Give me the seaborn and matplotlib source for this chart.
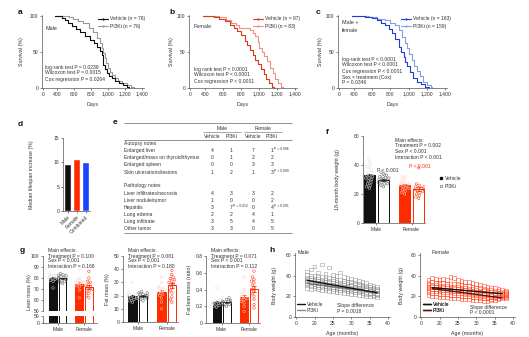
import matplotlib
matplotlib.use('Agg')
import matplotlib.pyplot as plt
import seaborn as sns
from matplotlib.lines import Line2D

sns.set_theme(style='ticks')
plt.rcParams['font.family'] = ['Liberation Sans', 'DejaVu Sans']
plt.rcParams['axes.unicode_minus'] = False

W, H = 529, 337
FS = 3.6
TXT = '#333333'
AXC = '#555555'
BLACK = '#111111'; GREY = '#9a9a9a'
RED = '#ff2a00'; DRED = '#d93a1e'; LRED = '#ec9482'
DBLUE = '#1f3fcf'; LBLUE = '#86a0e8'

# ---------------- data ----------------
day_tick_values = [0, 400, 600, 800, 1000, 1200, 1400]
day_tick_labels = ['0', '400', '600', '800', '1,000', '1,200', '1,400']

male_veh_days = [380, 460, 500, 533, 573, 620, 671, 730, 788, 830, 867, 900, 926, 945, 965, 984, 1010, 1043, 1080, 1122, 1170, 1220, 1240]
male_veh_surv = [100, 97, 94, 90, 86, 82, 78, 72, 67, 62, 57, 51, 46, 32, 26, 21, 17, 14, 10, 7, 4, 1, 0]
male_pi_days = [380, 540, 592, 650, 710, 770, 828, 870, 906, 930, 945, 960, 976, 1000, 1024, 1050, 1082, 1120, 1161, 1220, 1270, 1298]
male_pi_surv = [100, 98, 96, 93, 90, 84, 78, 70, 62, 55, 49, 42, 35, 28, 22, 18, 14, 10, 7, 4, 2, 0]

fem_veh_days = [380, 500, 560, 620, 680, 720, 760, 800, 840, 870, 900, 930, 960, 990, 1020, 1050, 1080, 1110, 1140, 1170]
fem_veh_surv = [100, 98, 96, 93, 88, 84, 79, 74, 66, 60, 53, 46, 39, 33, 26, 20, 13, 7, 2, 0]
fem_pi_days = [380, 560, 630, 690, 740, 780, 900, 930, 960, 985, 1005, 1030, 1060, 1090, 1120, 1150, 1180, 1210, 1240, 1260]
fem_pi_surv = [100, 98, 95, 91, 87, 84, 81, 77, 72, 64, 56, 50, 44, 37, 28, 21, 13, 7, 2, 0]

comb_veh_days = [380, 520, 600, 650, 700, 740, 780, 815, 850, 890, 920, 945, 965, 985, 1010, 1050, 1090, 1130, 1180, 1220]
comb_veh_surv = [100, 99, 97, 95, 91, 87, 82, 76, 68, 57, 50, 43, 36, 30, 22, 14, 9, 5, 2, 0]
comb_pi_days = [380, 560, 650, 740, 800, 850, 890, 925, 955, 980, 1005, 1035, 1060, 1090, 1120, 1160, 1200, 1240, 1260]
comb_pi_surv = [100, 98, 96, 94, 90, 87, 80, 71, 63, 55, 47, 39, 31, 23, 16, 9, 4, 1, 0]

d_cats = ['Male', 'Female', 'Combined']
d_vals = [9.7, 10.6, 10.0]

tab_groups = ['Male', 'Female']
tab_cols = ['Vehicle', 'PI3Ki', 'Vehicle', 'PI3Ki']
autopsy_rows = ['Enlarged liver', 'Enlarged/mass on thyroid/thymus', 'Enlarged spleen', 'Skin ulcerations/lesions']
autopsy_counts = [[4, 1, 7, 1], [0, 1, 2, 2], [0, 0, 3, 3], [1, 2, 1, 3]]
autopsy_p = {(0, 3): 'P = 0.006', (3, 3): 'P = 0.080'}
path_rows = ['Liver infiltrates/necrosis', 'Liver nodule/tumor', 'Hepatitis', 'Lung edema', 'Lung infiltrate', 'Other tumor']
path_counts = [[4, 3, 3, 2], [1, 0, 0, 2], [3, 7, 0, 4], [2, 2, 4, 1], [3, 5, 4, 5], [3, 3, 0, 5]]
path_p = {(2, 1): 'P = 0.012', (2, 3): 'P = 0.001'}

f_male_veh = [44, 42, 40, 39, 38, 36, 35, 34, 33, 33, 32, 31, 31, 30, 29, 28, 27, 26, 25, 24]
f_male_pi = [35, 34, 33, 32, 32, 31, 31, 30, 30, 29, 29, 28, 28, 27, 27, 26, 25]
f_fem_veh = [32, 31, 30, 29, 28, 27, 27, 26, 26, 25, 24, 24, 23, 22, 21, 20]
f_fem_pi = [38, 27, 26, 25, 25, 24, 24, 23, 23, 22, 22, 21, 20, 19, 18, 17]

lean_male_veh = [84, 83, 83, 82, 82, 81, 81, 80, 80, 79, 78, 77, 71]
lean_male_pi = [84, 83, 82, 82, 81, 80, 80, 79, 79, 78, 77, 76, 75]
lean_fem_veh = [88, 80, 78, 77, 76, 76, 75, 74, 73, 72, 69, 62]
lean_fem_pi = [86, 80, 77, 76, 74, 73, 72, 71, 70, 69, 68, 66, 64, 62]

fat_male_veh = [30, 22, 21, 21, 20, 20, 19, 19, 18, 18, 17, 16, 15]
fat_male_pi = [23, 22, 22, 21, 21, 20, 20, 19, 19, 18, 18, 17, 16]
fat_fem_veh = [34, 30, 27, 26, 25, 24, 23, 22, 21, 20, 18, 15, 10]
fat_fem_pi = [39, 36, 34, 33, 32, 31, 30, 29, 28, 26, 24, 22, 19, 17, 15]

ratio_male_veh = [0.42, 0.28, 0.27, 0.26, 0.25, 0.24, 0.24, 0.23, 0.22, 0.21, 0.20, 0.19]
ratio_male_pi = [0.30, 0.28, 0.27, 0.26, 0.26, 0.25, 0.24, 0.24, 0.23, 0.22, 0.21, 0.20]
ratio_fem_veh = [0.55, 0.40, 0.36, 0.34, 0.32, 0.30, 0.29, 0.28, 0.26, 0.24, 0.20, 0.14]
ratio_fem_pi = [0.62, 0.55, 0.52, 0.50, 0.48, 0.45, 0.42, 0.40, 0.38, 0.35, 0.32, 0.28, 0.22, 0.18]

h_male_ages = list(range(18, 38))
h_male_wts = [
    [28, 31, 33, 35, 36, 38, 41, 44], [27, 30, 33, 34, 36, 38, 40, 46], [28, 30, 32, 34, 35, 37, 40, 49],
    [27, 29, 31, 33, 35, 37, 39, 43], [26, 29, 31, 33, 34, 36, 39, 51], [26, 28, 30, 32, 34, 36, 38, 42],
    [25, 28, 30, 31, 33, 35, 38, 48], [25, 27, 29, 31, 33, 35, 37, 41], [24, 27, 29, 30, 32, 34, 36, 40],
    [24, 26, 28, 30, 31, 33, 36, 43], [23, 26, 28, 29, 31, 33, 35, 39], [23, 25, 27, 29, 30, 32, 34, 38],
    [22, 25, 27, 28, 30, 31, 34, 37], [22, 24, 26, 28, 29, 31, 33, 36], [21, 24, 26, 27, 28, 30, 32, 35],
    [21, 23, 25, 26, 28, 29, 31, 34], [20, 22, 24, 26, 27, 28, 30, 33], [20, 22, 23, 25, 26, 27, 29, 31],
    [20, 21, 23, 24, 25, 27, 28, 30], [19, 21, 22, 23, 25, 26, 27, 29]]
h_fem_ages = list(range(17, 39))
h_fem_wts = [
    [21, 24, 26, 28, 29, 31, 33, 36], [20, 23, 25, 27, 29, 31, 34, 38], [20, 23, 25, 27, 29, 31, 33, 37],
    [19, 22, 25, 27, 28, 30, 33, 36], [19, 22, 24, 26, 28, 30, 33, 37], [19, 22, 24, 26, 28, 30, 32, 36],
    [18, 21, 24, 26, 27, 29, 32, 39], [18, 21, 23, 25, 27, 29, 32, 38], [18, 21, 23, 25, 27, 29, 31, 36],
    [17, 20, 23, 25, 26, 28, 31, 35], [17, 20, 22, 24, 26, 28, 30, 34], [17, 20, 22, 24, 25, 27, 30, 34],
    [16, 19, 21, 23, 25, 27, 29, 33], [16, 19, 21, 23, 24, 26, 28, 32], [16, 18, 20, 22, 24, 25, 28, 31],
    [15, 18, 20, 22, 23, 25, 27, 30], [15, 18, 19, 21, 23, 24, 26, 29], [16, 17, 19, 21, 22, 24, 26, 28],
    [16, 18, 19, 20, 22, 23, 25, 28], [17, 18, 20, 21, 22, 23, 25, 27], [18, 19, 20, 21, 22, 23, 24, 26],
    [18, 19, 20, 21, 22, 23, 24, 25]]
h_fit_age = [18, 37]
h_male_fit_veh = [35.5, 23.5]
h_male_fit_pi = [32.5, 24.0]
h_fem_fit_veh = [28.5, 22.5]
h_fem_fit_pi = [27.5, 18.5]
age_tick_values = [0, 20, 25, 30, 35, 40]

# ---------------- figure helpers ----------------
fig = plt.figure(figsize=(W / 100, H / 100), dpi=100)
ov = fig.add_axes([0, 0, 1, 1], zorder=10)
ov.set_xlim(0, W); ov.set_ylim(H, 0); ov.axis('off'); ov.patch.set_alpha(0)


def add_ax(l, t, r, b):
    ax = fig.add_axes([l / W, 1 - b / H, (r - l) / W, (b - t) / H])
    ax._px = (l, t, r, b)
    ax.patch.set_alpha(0)
    return ax


def style(ax, ylab=None, ylab_x=None, xlab=None, xlab_y=None):
    sns.despine(ax=ax)
    for s in ['left', 'bottom']:
        ax.spines[s].set_linewidth(0.5)
        ax.spines[s].set_color(AXC)
    ax.tick_params(length=1.6, width=0.5, labelsize=FS, pad=1.0, color=AXC, labelcolor=TXT)
    l, t, r, b = ax._px
    if ylab:
        ax.set_ylabel(ylab, fontsize=FS + 0.2, color=TXT)
        ax.yaxis.set_label_coords((ylab_x + 2.4 - l) / (r - l), 0.5)
    else:
        ax.set_ylabel('')
    if xlab:
        ax.set_xlabel(xlab, fontsize=FS + 0.2, color=TXT)
        ax.xaxis.set_label_coords(0.5, (b - xlab_y) / (b - t))
    else:
        ax.set_xlabel('')


def txt(x, y, s, size=FS, color=TXT, ha='left', va='center', **kw):
    ov.text(x, y, s, fontsize=size, color=color, ha=ha, va=va, **kw)


def letter(x, y, s):
    ov.text(x, y, s, fontsize=6, fontweight='bold', color='#111', ha='center', va='center')


# ---------------- a, b, c survival ----------------
def survival(box, veh, pi, cv, cp, labels, leg_xy, ylab_x):
    ax = add_ax(*box)
    for (d, s), c in [(pi, cp), (veh, cv)]:
        sns.lineplot(x=d, y=s, ax=ax, color=c, drawstyle='steps-post', estimator=None,
                     sort=False, linewidth=0.8, marker='o', markersize=0.8, markeredgewidth=0)
    ax.set_xlim(225, 1420)
    ax.set_ylim(0, 102)
    ax.set_xticks([240] + day_tick_values[1:])
    ax.set_xticklabels(day_tick_labels)
    ax.set_yticks([0, 50, 100])
    style(ax, 'Survival (%)', ylab_x, 'Days', 102)
    handles = [Line2D([], [], color=c, lw=0.8, marker='o', ms=1.6, mew=0) for c in (cv, cp)]
    ax.legend(handles, labels, loc='upper left', bbox_to_anchor=(leg_xy[0] / W, 1 - leg_xy[1] / H),
              bbox_transform=fig.transFigure, frameon=False, fontsize=FS, labelcolor=TXT,
              handlelength=2.0, handletextpad=0.4, labelspacing=0.55, borderpad=0, borderaxespad=0)
    return ax


survival((42, 14.6, 144, 88), (male_veh_days, male_veh_surv), (male_pi_days, male_pi_surv),
         BLACK, GREY, ['Vehicle (n = 76)', 'PI3Ki (n = 76)'], (98, 16.3), 22)
survival((189, 14.6, 297, 88), (fem_veh_days, fem_veh_surv), (fem_pi_days, fem_pi_surv),
         DRED, LRED, ['Vehicle (n = 87)', 'PI3Ki (n = 83)'], (253, 16.3), 172)
survival((338, 14.6, 447, 88), (comb_veh_days, comb_veh_surv), (comb_pi_days, comb_pi_surv),
         DBLUE, LBLUE, ['Vehicle (n = 163)', 'PI3Ki (n = 159)'], (401, 16.3), 321)

letter(20, 13, 'a'); letter(172, 13, 'b'); letter(318, 13, 'c')
txt(45, 28, 'Male', size=FS + 0.3)
for i, s in enumerate(['log-rank test P = 0.0239', 'Wilcoxon test P = 0.0015', 'Cox regression P = 0.0264']):
    txt(45, 67 + 6 * i, s)
txt(194, 27, 'Female', size=FS + 0.3)
for i, s in enumerate(['log rank test P < 0.0001', 'Wilcoxon test P < 0.0001', 'Cox regression P < 0.0001']):
    txt(194, 69 + 6 * i, s)
txt(342, 22, 'Male +', size=FS + 0.3)
txt(342, 30, 'female', size=FS + 0.3)
for i, s in enumerate(['log-rank test P < 0.0001', 'Wilcoxon test P < 0.0001', 'Cox regression P < 0.0001',
                       'Sex \u00d7 treatment (Cox)', 'P = 0.0346']):
    txt(342, 59 + 6 * i, s)

# ---------------- d ----------------
axd = add_ax(63, 138, 90, 211)
sns.barplot(x=d_cats, y=d_vals, hue=d_cats, palette=[BLACK, RED, '#1a44ff'], saturation=1,
            width=0.77, legend=False, ax=axd)
axd.set_xlim(-0.5, 2.5); axd.set_ylim(0, 15)
axd.set_yticks([0, 5, 10, 15])
axd.set_xticks([0, 1, 2])
axd.set_xticklabels(d_cats, rotation=45, ha='right', rotation_mode='anchor')
style(axd, 'Median lifespan increase (%)', 32)
letter(20, 124, 'd')

# ---------------- e table ----------------
letter(115, 123, 'e')
col_x = [212, 231, 253, 272]
ov.hlines([123, 139.5, 233], 124, 292, color='#666', lw=0.5)
ov.hlines([132, 132], [203, 244], [241, 282], color='#666', lw=0.4)
txt(222, 128, tab_groups[0], ha='center')
txt(263, 128, tab_groups[1], ha='center')
for x, c in zip(col_x, tab_cols):
    txt(x, 136, c, ha='center')
txt(124, 143.6, 'Autopsy notes')
for i, (name, counts) in enumerate(zip(autopsy_rows, autopsy_counts)):
    y = 150.7 + 7.1 * i
    txt(124, y, name)
    for j, v in enumerate(counts):
        txt(col_x[j], y, str(v), ha='center')
        if (i, j) in autopsy_p:
            txt(col_x[j] + 2, y - 1.2, autopsy_p[(i, j)], size=2.4)
txt(124, 186, 'Pathology notes')
for i, (name, counts) in enumerate(zip(path_rows, path_counts)):
    y = 193.1 + 7.1 * i
    txt(124, y, name)
    for j, v in enumerate(counts):
        txt(col_x[j], y, str(v), ha='center')
        if (i, j) in path_p:
            txt(col_x[j] + 2, y - 1.2, path_p[(i, j)], size=2.4)


# ---------------- bar + swarm helper ----------------
def bar_swarm(ax, positions, datasets, styles, width, swarm=True, psize=1.8):
    for pos, vals, (c, filled, pc) in zip(positions, datasets, styles):
        sns.barplot(x=[pos] * len(vals), y=vals, native_scale=True, orient='x', ax=ax, color=c,
                    fill=filled, saturation=1, width=width, errorbar='se', capsize=0.35,
                    err_kws={'linewidth': 0.5, 'color': c}, linewidth=0.7, edgecolor=c)
        if swarm:
            sns.swarmplot(x=[pos] * len(vals), y=vals, native_scale=True, orient='x', ax=ax,
                          size=psize, color=pc, edgecolor=pc, linewidth=0.35, warn_thresh=1)
            coll = ax.collections[-1]
            coll.set_facecolor('none')
            coll.set_edgecolor(pc)
            coll.set_linewidth(0.35)


grp_styles = [(BLACK, True, '#e0e0e0'), (BLACK, False, '#555555'), (RED, True, '#ffd0c4'), (RED, False, RED)]

# ---------------- f ----------------
axf = add_ax(363, 136, 425, 223)
f_pos = [0, 1, 2.5, 3.5]
bar_swarm(axf, f_pos, [f_male_veh, f_male_pi, f_fem_veh, f_fem_pi], grp_styles, 0.75)
axf.set_xlim(-0.46, 3.96); axf.set_ylim(0, 60)
axf.set_yticks([0, 20, 40, 60])
axf.set_xticks([0.5, 3.0]); axf.set_xticklabels(['Male', 'Female'])
style(axf, '18-month body weight (g)', 338)
letter(327, 132, 'f')
for i, s in enumerate(['Main effects:', 'Treatment P = 0.002', 'Sex P < 0.001', 'Interaction P < 0.001']):
    txt(395, 140 + 5.7 * i, s)
txt(377, 170, 'P < 0.001')
txt(409, 167, 'P < 0.001', color=RED)
fh = [Line2D([], [], ls='none', marker='s', color=BLACK, ms=1.8),
      Line2D([], [], ls='none', marker='o', mfc='none', mec='#555', ms=1.9, mew=0.4)]
axf.legend(fh, ['Vehicle', 'PI3Ki'], loc='upper left', bbox_to_anchor=(439 / W, 1 - 175.5 / H),
           bbox_transform=fig.transFigure, frameon=False, fontsize=FS, labelcolor=TXT,
           handlelength=0.8, handletextpad=0.4, labelspacing=0.7, borderpad=0, borderaxespad=0)

# ---------------- g ----------------
letter(22, 250, 'g')
g_pos = [0, 1, 2.75, 3.75]
# lean mass with broken axis
axg1 = add_ax(43, 256, 97, 311)
bar_swarm(axg1, g_pos, [lean_male_veh, lean_male_pi, lean_fem_veh, lean_fem_pi], grp_styles, 0.8)
axg1.set_xlim(-1.05, 4.6); axg1.set_ylim(50, 100)
axg1.set_yticks([50, 60, 70, 80, 90, 100])
axg1.set_xticks([])
style(axg1)
axg1.spines['bottom'].set_visible(False)
axg1b = add_ax(43, 316, 97, 323)
bar_swarm(axg1b, g_pos, [lean_male_veh, lean_male_pi, lean_fem_veh, lean_fem_pi], grp_styles, 0.8, swarm=False)
axg1b.set_xlim(-1.05, 4.6); axg1b.set_ylim(0, 50)
axg1b.set_yticks([0, 50])
axg1b.set_xticks([0.5, 3.25]); axg1b.set_xticklabels(['Male', 'Female'])
style(axg1b)
axg1.set_ylabel('Lean mass (%)', fontsize=FS + 0.2, color=TXT)
axg1.yaxis.set_label_coords((32.4 - 43) / 54, 0.35)

axg2 = add_ax(123, 256, 178, 322)
bar_swarm(axg2, g_pos, [fat_male_veh, fat_male_pi, fat_fem_veh, fat_fem_pi], grp_styles, 0.8)
axg2.set_xlim(-0.9, 4.33); axg2.set_ylim(0, 50)
axg2.set_yticks([0, 10, 20, 30, 40, 50])
axg2.set_xticks([0.5, 3.25]); axg2.set_xticklabels(['Male', 'Female'])
style(axg2, 'Fat mass (%)', 108)

axg3 = add_ax(206, 256, 260, 323)
bar_swarm(axg3, g_pos, [ratio_male_veh, ratio_male_pi, ratio_fem_veh, ratio_fem_pi], grp_styles, 0.8)
axg3.set_xlim(-1.05, 4.35); axg3.set_ylim(0, 0.8)
axg3.set_yticks([0, 0.2, 0.4, 0.6, 0.8]); axg3.set_yticklabels(['0', '0.2', '0.4', '0.6', '0.8'])
axg3.set_xticks([0.5, 3.25]); axg3.set_xticklabels(['Male', 'Female'])
style(axg3, 'Fat:lean mass (ratio)', 190)

for x0, lines in [(48, ['Main effects:', 'Treatment P = 0.100', 'Sex P < 0.001', 'Interaction P = 0.168']),
                  (128, ['Main effects:', 'Treatment P = 0.081', 'Sex P < 0.001', 'Interaction P = 0.180']),
                  (211, ['Main effects:', 'Treatment P = 0.071', 'Sex P < 0.001', 'Interaction P = 0.112'])]:
    for i, s in enumerate(lines):
        txt(x0, 251 + 5 * i, s)


# ---------------- h ----------------
def flat(ages, wts):
    xs, ys = [], []
    for a, ws in zip(ages, wts):
        xs += [a] * len(ws)
        ys += ws
    return xs, ys


def weight_panel(box, ages, wts, cloud_c, fit_veh, fit_pi, cv, cp, ylab_x):
    ax = add_ax(*box)
    xs, ys = flat(ages, wts)
    sns.scatterplot(x=xs, y=ys, ax=ax, marker='s', s=7, color=cloud_c, edgecolor=cloud_c,
                    linewidth=0.45, alpha=0.75, legend=False)
    coll = ax.collections[-1]
    coll.set_facecolor('none')
    sns.lineplot(x=h_fit_age, y=fit_pi, ax=ax, color=cp, linewidth=1.0)
    sns.lineplot(x=h_fit_age, y=fit_veh, ax=ax, color=cv, linewidth=1.0)
    ax.set_xlim(14.7, 40.5); ax.set_ylim(0, 62)
    ax.set_xticks([14.9] + age_tick_values[1:])
    ax.set_xticklabels([str(v) for v in age_tick_values])
    ax.set_yticks([0, 20, 40, 60])
    style(ax, 'Body weight (g)', ylab_x, 'Age (months)', 330.5)
    return ax


weight_panel((295, 253, 390, 317), h_male_ages, h_male_wts, '#8a8a8a', h_male_fit_veh, h_male_fit_pi,
             BLACK, '#6e6e6e', 275)
weight_panel((420, 253, 515, 317), h_fem_ages, h_fem_wts, '#ff3a14', h_fem_fit_veh, h_fem_fit_pi,
             BLACK, '#5a1408', 402)
letter(272, 250, 'h')
txt(298, 253, 'Male', size=FS + 0.3)
txt(432, 252, 'Female', size=FS + 0.3)
for (lx, ly, cv, cp) in [(297, 301.5, BLACK, '#8a8a8a'), (423, 301.5, BLACK, '#5a1408')]:
    hh = [Line2D([], [], color=cv, lw=1.0), Line2D([], [], color=cp, lw=1.0)]
    ov.legend(hh, ['Vehicle', 'PI3Ki'], loc='upper left', bbox_to_anchor=(lx / W, 1 - ly / H),
              bbox_transform=fig.transFigure, frameon=False, fontsize=FS, labelcolor=TXT,
              handlelength=1.6, handletextpad=0.4, labelspacing=0.3, borderpad=0, borderaxespad=0)
    ov.add_artist(ov.get_legend())
txt(337, 306, 'Slope difference')
txt(337, 311.5, 'P = 0.0018')
txt(470, 307, 'Slope difference')
txt(470, 312.5, 'P < 0.0001')

fig.savefig('out.png', dpi=100)
